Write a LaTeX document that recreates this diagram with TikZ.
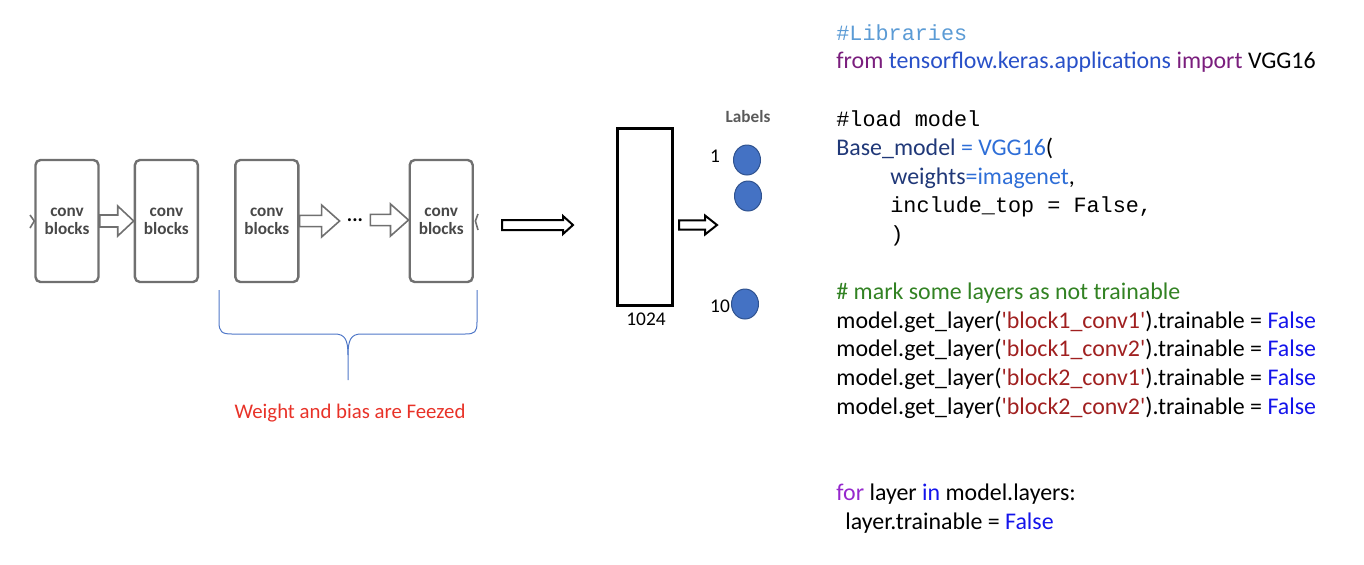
\documentclass[tikz,border=0pt]{standalone}
\usepackage{fontspec}
\setmainfont{Carlito}
\setmonofont{Liberation Mono}
\usepackage{xcolor}
\usepackage{tikz}
\usetikzlibrary{shapes,calc,positioning}

\definecolor{convgray}{RGB}{112,112,112}
\definecolor{convtext}{RGB}{72,72,72}
\definecolor{labgray}{RGB}{90,90,90}
\definecolor{circfill}{RGB}{68,114,196}
\definecolor{circdraw}{RGB}{47,82,143}
\definecolor{bracecol}{RGB}{80,120,200}
\definecolor{freezered}{RGB}{232,50,40}
\definecolor{libblue}{RGB}{91,155,213}
\definecolor{kwpurple}{RGB}{122,30,125}
\definecolor{modblue}{RGB}{40,80,200}
\definecolor{navy}{RGB}{32,56,120}
\definecolor{brightblue}{RGB}{46,110,215}
\definecolor{cmtgreen}{RGB}{50,130,35}
\definecolor{strred}{RGB}{160,32,32}
\definecolor{falseblue}{RGB}{20,20,235}
\definecolor{forviolet}{RGB}{150,40,205}

\begin{document}
\begin{tikzpicture}[x=0.5pt, y=-0.5pt,
    ashaft/.store in=\ash, ahead/.store in=\ahw, alen/.store in=\ahl,
    ashaft=3pt, ahead=7.5pt, alen=8pt,
    blockarrow/.style={draw, fill=white, line width=0.8pt,
        to path={let \p1=(\tikztostart), \p2=(\tikztotarget) in
            (\x1,\y1+\ash) -- (\x2-\ahl,\y1+\ash) -- (\x2-\ahl,\y1+\ahw) -- (\x2,\y1)
            -- (\x2-\ahl,\y1-\ahw) -- (\x2-\ahl,\y1-\ash) -- (\x1,\y1-\ash) -- cycle}},
    convbox/.style={draw=convgray, line width=1.2pt, rounded corners=2.5pt,
        minimum width=31.5pt, minimum height=61pt, align=center, inner sep=0pt,
        font=\bfseries\fontsize{8.6}{9}\selectfont, text=convtext},
    dense/.style={draw, line width=1.5pt, minimum width=27.5pt, minimum height=88.5pt},
    unit/.style={ellipse, draw=circdraw, fill=circfill, line width=0.5pt,
        minimum width=13.5pt, minimum height=15pt, inner sep=0pt},
    code/.style={anchor=base west, inner sep=0pt, font=\fontsize{11.95}{14}\selectfont},
    mono/.style={anchor=base west, inner sep=0pt, font=\ttfamily\fontsize{10.9}{13}\selectfont},
    small/.style={anchor=base, inner sep=0pt, font=\fontsize{9.7}{11}\selectfont}]
    \useasboundingbox (0,0) rectangle (1364,564);

    % conv blocks
    \node[convbox] (b1) at (67,221) {conv\\blocks};
    \node[convbox, right=17pt of b1] (b2) {conv\\blocks};
    \node[convbox, right=17.5pt of b2] (b3) {conv\\blocks};
    \node[convbox, right=54.5pt of b3] (b4) {conv\\blocks};
    \node[inner xsep=3.5pt, inner ysep=0pt, font=\bfseries\fontsize{10}{10}\selectfont] (dots) at (355,220) {...};

    \draw[blockarrow, draw=convgray] (b1.east) to (b2.west);
    \draw[blockarrow, draw=convgray, ashaft=2.8pt, ahead=8pt, alen=9pt] (b3.east) to (dots.west);
    \draw[blockarrow, draw=convgray, ashaft=2.8pt, ahead=8pt, alen=9pt] (dots.east) to (b4.west);

    \coordinate (stubtop) at (30,215);
    \coordinate (stubbot) at (30,228);
    \draw[convgray, line width=0.8pt] (stubtop) -- (b1.west) -- (stubbot);
    \coordinate (outtop) at (478,214);
    \coordinate (outbot) at (478,230);
    \draw[convgray, line width=0.8pt] (outtop) -- ($(b4.east)+(1.5,0)$) -- (outbot);

    % brace
    \draw[bracecol, line width=0.5pt] (219,290) -- (219,322) .. controls (219,332) and (222,334) .. (232,334)
        -- (335,334) .. controls (345,334) and (348,340) .. (348,355) -- (348,380);
    \draw[bracecol, line width=0.5pt] (348,355) .. controls (348,340) and (351,334) .. (361,334)
        -- (465,334) .. controls (475,334) and (477,332) .. (477,322) -- (477,290);
    \node[anchor=base, inner sep=0pt, text=freezered, font=\fontsize{10.4}{12}\selectfont] (freeze) at (350,418) {Weight and bias are Feezed};

    % dense layer and outputs
    \coordinate (bigstart) at (502,225);
    \coordinate (bigend) at (573,225);
    \draw[blockarrow, ashaft=2.5pt, ahead=4.5pt, alen=5pt, line width=1pt] (bigstart) to (bigend);
    \node[dense] (fc) at (644.5,216.5) {};
    \node[small] (fcsize) at (646,325) {1024};
    \coordinate (fcout) at (679,225);
    \coordinate (fcin) at (717,225);
    \draw[blockarrow, ashaft=2.3pt, ahead=4.75pt, alen=6pt, line width=1pt] (fcout) to (fcin);

    \node[anchor=base, inner sep=0pt, text=labgray, font=\bfseries\fontsize{8.6}{10}\selectfont] (labels) at (748,122) {Labels};
    \node[unit] (u1) at (747,160) {};
    \node[unit] (u2) at (748,196) {};
    \node[unit] (u10) at (745,304) {};
    \node[small] (n1) at (715,162) {1};
    \node[small] (n10) at (720,312) {10};

    % code
    \node[mono, text=libblue] (lib) at (836,40) {\#Libraries};
    \node[code] (imp) at (836,68.8) {\textcolor{kwpurple}{from} \textcolor{modblue}{tensorflow.keras.applications} \textcolor{kwpurple}{import} VGG16};
    \node[mono] (loadc) at (836,126.4) {\#load model};
    \node[code] (base) at (836,155.2) {\textcolor{navy}{Base\_model} \textcolor{brightblue}{= VGG16}(};
    \node[code] (wts) at (890,184) {\textcolor{navy}{weights}\textcolor{brightblue}{=imagenet},};
    \node[mono] (top) at (890,212.8) {include\_top = False,};
    \node[mono] (close) at (890,241.6) {)};
    \node[code, text=cmtgreen] (markc) at (836,299.2) {\# mark some layers as not trainable};
    \foreach \blk/\cv [count=\i] in {1/1,1/2,2/1,2/2}
        \node[code] (getl\i) at (836,{328+28.8*(\i-1)}) {model.get\_layer(\textcolor{strred}{\textquotesingle block\blk\_conv\cv\textquotesingle}).trainable = \textcolor{falseblue}{False}};
    \node[code] (loop) at (836,500.8) {\textcolor{forviolet}{for} layer \textcolor{falseblue}{in} model.layers:};
    \node[code] (setl) at (845,529.6) {layer.trainable = \textcolor{falseblue}{False}};
\end{tikzpicture}
\end{document}
